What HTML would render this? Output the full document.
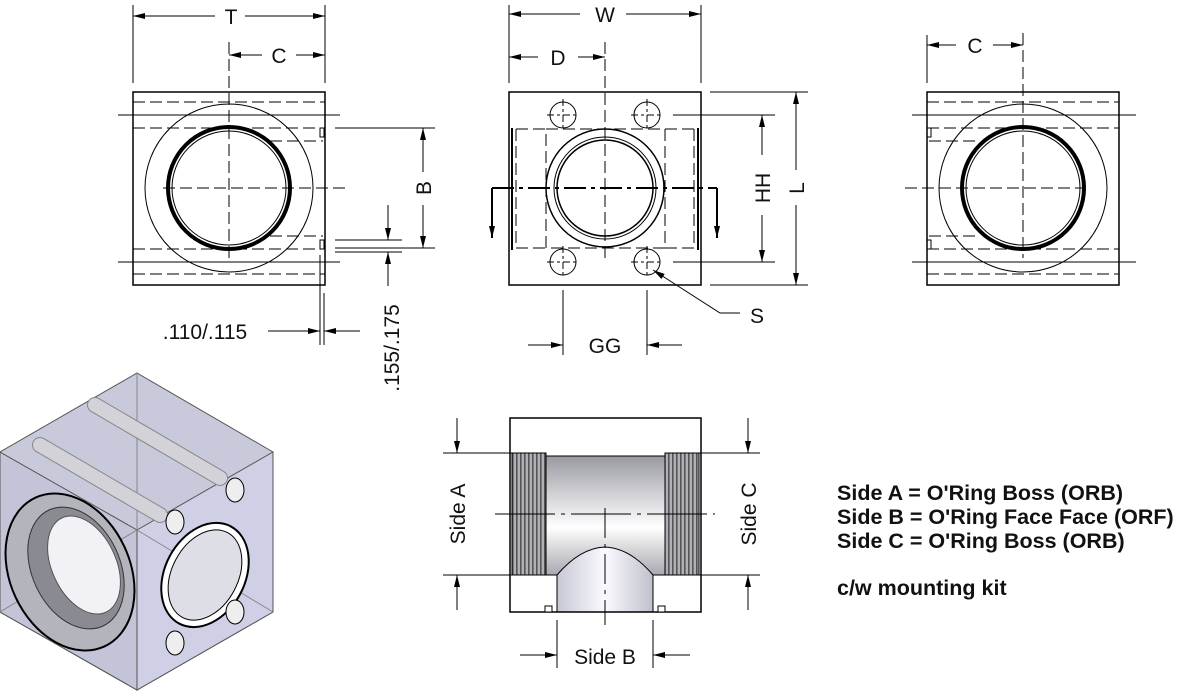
<!DOCTYPE html>
<html><head><meta charset="utf-8"><style>
html,body{margin:0;padding:0;background:#fff;}
svg{display:block;}
text{font-family:"Liberation Sans",sans-serif;}
</style></head><body>
<svg width="1180" height="694" viewBox="0 0 1180 694" xmlns="http://www.w3.org/2000/svg">
<defs>
<marker id="a" viewBox="0 0 12 6" refX="12" refY="3" markerWidth="12" markerHeight="6" orient="auto-start-reverse" markerUnits="userSpaceOnUse"><path d="M0,0L12,3L0,6z" fill="#000"/></marker>
<linearGradient id="bore" x1="0" y1="0" x2="0" y2="1"><stop offset="0" stop-color="#9a9aa2"/><stop offset="0.45" stop-color="#e6e6ea"/><stop offset="0.6" stop-color="#fff"/><stop offset="1" stop-color="#a8a8b0"/></linearGradient>
<linearGradient id="boreB" x1="0" y1="0" x2="1" y2="0"><stop offset="0" stop-color="#c8c8d4"/><stop offset="0.5" stop-color="#fafaff"/><stop offset="1" stop-color="#c0c0cc"/></linearGradient>
<pattern id="thr" width="4" height="10" patternUnits="userSpaceOnUse"><rect width="4" height="10" fill="#b0b0b8"/><rect width="1.6" height="10" fill="#555"/></pattern>
</defs>
<g stroke="#000" fill="none" stroke-width="1">

<rect x="133" y="92" width="192" height="193" stroke-width="1.5"/>
<circle cx="229" cy="188" r="84"/>
<circle cx="229" cy="188" r="61" stroke-width="4"/>
<circle cx="229" cy="188" r="57"/>
<line x1="118" y1="115" x2="340" y2="115"/>
<line x1="118" y1="262" x2="340" y2="262"/>
<g stroke-dasharray="12,5">
<line x1="133" y1="102" x2="325" y2="102"/>
<line x1="133" y1="128" x2="325" y2="128"/>
<line x1="270" y1="141" x2="323" y2="141"/>
<line x1="270" y1="236" x2="323" y2="236"/>
<line x1="133" y1="249" x2="325" y2="249"/>
<line x1="133" y1="274" x2="325" y2="274"/>
<line x1="163" y1="188" x2="345" y2="188"/>
<line x1="229" y1="42" x2="229" y2="258"/>
</g>
<rect x="320" y="128" width="4" height="9"/><rect x="320" y="240" width="4" height="9"/>
<line x1="133" y1="5" x2="133" y2="83"/><line x1="325" y1="5" x2="325" y2="83"/>
<line x1="133" y1="16" x2="215" y2="16" marker-start="url(#a)"/><line x1="245" y1="16" x2="325" y2="16" marker-end="url(#a)"/>
<line x1="229" y1="55" x2="262" y2="55" marker-start="url(#a)"/><line x1="296" y1="55" x2="325" y2="55" marker-end="url(#a)"/>
<line x1="335" y1="128" x2="435" y2="128"/><line x1="335" y1="248" x2="435" y2="248"/>
<line x1="423" y1="128" x2="423" y2="172" marker-start="url(#a)"/><line x1="423" y1="205" x2="423" y2="248" marker-end="url(#a)"/>
<line x1="335" y1="240" x2="402" y2="240"/><line x1="335" y1="252" x2="402" y2="252"/>
<line x1="388" y1="205" x2="388" y2="240" marker-end="url(#a)"/><line x1="388" y1="286" x2="388" y2="252" marker-end="url(#a)"/>
<line x1="320" y1="255" x2="320" y2="345"/><line x1="324" y1="293" x2="324" y2="345"/>
<line x1="268" y1="331" x2="320" y2="331" marker-end="url(#a)"/><line x1="360" y1="331" x2="324" y2="331" marker-end="url(#a)"/>

<rect x="509" y="92" width="192" height="193" stroke-width="1.5"/>
<line x1="512" y1="128" x2="512" y2="250" stroke-width="2"/><line x1="698" y1="128" x2="698" y2="250" stroke-width="2"/>
<g stroke-dasharray="12,5">
<rect x="546" y="129" width="119" height="119"/>
<line x1="516" y1="129" x2="546" y2="129"/><line x1="516" y1="248" x2="546" y2="248"/>
<line x1="665" y1="129" x2="694" y2="129"/><line x1="665" y1="248" x2="694" y2="248"/>
<line x1="516" y1="129" x2="516" y2="248"/><line x1="694" y1="129" x2="694" y2="248"/>
<line x1="605" y1="42" x2="605" y2="260"/>
</g>
<circle cx="605" cy="188" r="59" stroke-width="1.5"/>
<circle cx="605" cy="188" r="51"/>
<circle cx="605" cy="188" r="48" stroke-width="1.5"/>
<line x1="492" y1="188" x2="717" y2="188" stroke-width="2" stroke-dasharray="22,5,4,5"/>
<line x1="492" y1="188" x2="492" y2="238" stroke-width="2" marker-end="url(#a)"/>
<line x1="717" y1="188" x2="717" y2="238" stroke-width="2" marker-end="url(#a)"/>
<g>
<circle cx="563" cy="115" r="13"/><circle cx="647" cy="115" r="13"/>
<circle cx="563" cy="262" r="13"/><circle cx="647" cy="262" r="13"/>
<path d="M547,115h32M563,99v32M631,115h32M647,99v32M547,262h32M563,246v32M631,262h32M647,246v32" stroke-dasharray="7,3,3,3"/>
</g>
<line x1="509" y1="5" x2="509" y2="83"/><line x1="701" y1="5" x2="701" y2="83"/>
<line x1="509" y1="14" x2="580" y2="14" marker-start="url(#a)"/><line x1="626" y1="14" x2="701" y2="14" marker-end="url(#a)"/>
<line x1="509" y1="57" x2="538" y2="57" marker-start="url(#a)"/><line x1="578" y1="57" x2="605" y2="57" marker-end="url(#a)"/>
<line x1="673" y1="115" x2="775" y2="115"/><line x1="673" y1="262" x2="775" y2="262"/>
<line x1="710" y1="92" x2="808" y2="92"/><line x1="710" y1="285" x2="808" y2="285"/>
<line x1="762" y1="115" x2="762" y2="155" marker-start="url(#a)"/><line x1="762" y1="215" x2="762" y2="262" marker-end="url(#a)"/>
<line x1="796" y1="92" x2="796" y2="170" marker-start="url(#a)"/><line x1="796" y1="205" x2="796" y2="285" marker-end="url(#a)"/>
<line x1="563" y1="290" x2="563" y2="355"/><line x1="647" y1="290" x2="647" y2="355"/>
<line x1="528" y1="345" x2="563" y2="345" marker-end="url(#a)"/><line x1="682" y1="345" x2="647" y2="345" marker-end="url(#a)"/>
<polyline points="740,313 720,313 653,270" marker-end="url(#a)"/>

<rect x="927" y="92" width="192" height="193" stroke-width="1.5"/>
<circle cx="1023" cy="188" r="84"/>
<circle cx="1023" cy="188" r="61" stroke-width="4"/>
<circle cx="1023" cy="188" r="57"/>
<line x1="912" y1="115" x2="1136" y2="115"/>
<line x1="912" y1="262" x2="1136" y2="262"/>
<g stroke-dasharray="12,5">
<line x1="927" y1="102" x2="1119" y2="102"/>
<line x1="927" y1="128" x2="1119" y2="128"/>
<line x1="929" y1="141" x2="980" y2="141"/>
<line x1="929" y1="236" x2="980" y2="236"/>
<line x1="927" y1="249" x2="1119" y2="249"/>
<line x1="927" y1="274" x2="1119" y2="274"/>
<line x1="905" y1="188" x2="1085" y2="188"/>
<line x1="1023" y1="33" x2="1023" y2="258"/>
</g>
<rect x="927" y="128" width="4" height="9"/><rect x="927" y="240" width="4" height="9"/>
<line x1="927" y1="35" x2="927" y2="83"/>
<line x1="927" y1="45" x2="956" y2="45" marker-start="url(#a)"/><line x1="993" y1="45" x2="1023" y2="45" marker-end="url(#a)"/>

<rect x="546" y="456" width="119" height="119" fill="url(#bore)" stroke="none"/>
<rect x="512" y="453" width="34" height="122" fill="url(#thr)" stroke="#000"/>
<rect x="665" y="453" width="34" height="122" fill="url(#thr)" stroke="#000"/>
<path d="M557,612V575Q580,548 605,547Q630,548 653,575V612Z" fill="url(#boreB)"/>
<path d="M546,456H665M546,575H557M653,575H665"/>
<rect x="510" y="418" width="191" height="194" stroke-width="1.5"/>
<rect x="545" y="606" width="7" height="6" fill="#fff"/><rect x="658" y="606" width="7" height="6" fill="#fff"/>
<line x1="495" y1="514" x2="715" y2="514" stroke-dasharray="60,6,4,6"/>
<line x1="605" y1="508" x2="605" y2="625" stroke-dasharray="30,6,4,6"/>
<line x1="443" y1="453" x2="515" y2="453"/><line x1="443" y1="575" x2="515" y2="575"/>
<line x1="697" y1="453" x2="760" y2="453"/><line x1="697" y1="575" x2="760" y2="575"/>
<line x1="457" y1="418" x2="457" y2="453" marker-end="url(#a)"/><line x1="457" y1="610" x2="457" y2="575" marker-end="url(#a)"/>
<line x1="748" y1="418" x2="748" y2="453" marker-end="url(#a)"/><line x1="748" y1="610" x2="748" y2="575" marker-end="url(#a)"/>
<line x1="557" y1="620" x2="557" y2="668"/><line x1="653" y1="620" x2="653" y2="668"/>
<line x1="520" y1="655" x2="557" y2="655" marker-end="url(#a)"/><line x1="690" y1="655" x2="653" y2="655" marker-end="url(#a)"/>
</g>

<g stroke="#555" stroke-width="1">
<polygon points="137,373 273,452 273,612 137,690 0,612 0,452" fill="#c9c9dc"/>
<polygon points="0,452 137,530 137,690 0,612" fill="#c4c4d8"/>
<polygon points="137,530 273,452 273,612 137,690" fill="#cfcfe6"/>
<line x1="137" y1="373" x2="137" y2="530" stroke="#888"/>
<line x1="0" y1="612" x2="137" y2="530" stroke="#888"/>
<line x1="273" y1="612" x2="137" y2="530" stroke="#888"/>
<path d="M40,445L160,515M95,405L220,478" stroke="#888" stroke-width="16" stroke-linecap="round"/>
<path d="M40,445L160,515M95,405L220,478" stroke="#d2d2d8" stroke-width="14" stroke-linecap="round"/>
<ellipse cx="70" cy="572" rx="60" ry="82" transform="rotate(-25 70 572)" fill="#b4b4bc" stroke="#000" stroke-width="2"/>
<ellipse cx="76" cy="568" rx="44" ry="64" transform="rotate(-25 76 568)" fill="#8a8a92" stroke="#333"/>
<ellipse cx="84" cy="565" rx="32" ry="52" transform="rotate(-25 84 565)" fill="#f2f2f6"/>
<ellipse cx="205" cy="575" rx="40" ry="55" transform="rotate(28 205 575)" fill="#fff" stroke="#000" stroke-width="2"/>
<ellipse cx="205" cy="575" rx="33" ry="48" transform="rotate(28 205 575)" fill="#dedee6" stroke="#000"/>
<ellipse cx="175" cy="522" rx="9" ry="12" fill="#eee" stroke="#000"/>
<ellipse cx="235" cy="490" rx="9" ry="12" fill="#eee" stroke="#000"/>
<ellipse cx="235" cy="612" rx="9" ry="12" fill="#eee" stroke="#000"/>
<ellipse cx="175" cy="643" rx="9" ry="12" fill="#eee" stroke="#000"/>
</g>

<g font-size="21" fill="#111" text-anchor="middle">
<text x="231" y="24">T</text>
<text x="279" y="63">C</text>
<text x="605" y="22">W</text>
<text x="558" y="65">D</text>
<text x="975" y="53">C</text>
<text x="205" y="339">.110/.115</text>
<text x="605" y="353">GG</text>
<text x="757" y="323">S</text>
<text x="605" y="664">Side B</text>
<text transform="translate(431,188) rotate(-90)">B</text>
<text transform="translate(770,188) rotate(-90)">HH</text>
<text transform="translate(804,188) rotate(-90)">L</text>
<text transform="translate(399,348) rotate(-90)">.155/.175</text>
<text transform="translate(465,514) rotate(-90)">Side A</text>
<text transform="translate(756,514) rotate(-90)">Side C</text>
</g>
<g font-size="21.5" font-weight="bold" fill="#111">
<text x="837" y="500">Side A = O'Ring Boss (ORB)</text>
<text x="837" y="524">Side B = O'Ring Face Face (ORF)</text>
<text x="837" y="548">Side C = O'Ring Boss (ORB)</text>
<text x="837" y="595">c/w mounting kit</text>
</g>
</svg>
</body></html>
